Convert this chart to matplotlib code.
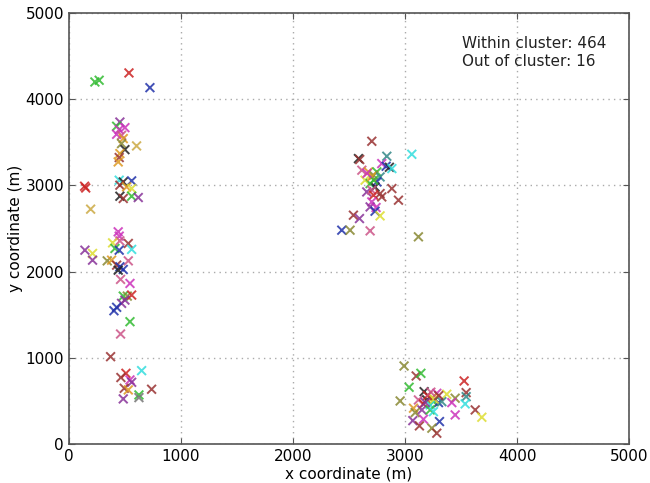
import matplotlib
matplotlib.use('Agg')
import matplotlib.pyplot as plt

# Point positions (m)
x_vals = [
    232, 270, 536, 723, 604, 455, 426, 500, 449, 426, 470, 485, 470, 500, 455, 449, 440,
    140, 150, 449, 485, 560, 455, 515, 560, 455, 485, 560, 619, 194,
    440, 449, 455, 530, 390, 411, 449, 560, 143, 211, 211, 342, 381, 530, 426, 455, 485, 440,
    461, 545, 485, 521, 560, 500, 470, 426, 402, 545, 461,
    372, 649, 509, 464, 545, 560, 494, 530, 738, 625, 625, 485,
    2703, 3060, 2584, 2595, 2837, 2792, 2831, 2860, 2882, 2614, 2673, 2748, 2718, 2777,
    2643, 2688, 2748, 2732, 2658, 2703, 2777, 2882, 2718, 2792, 2941, 2703, 2688, 2741,
    2732, 2777, 2539, 2593, 2435, 2509, 2688, 3119, 2700, 2720, 2660,
    2991, 3099, 3141, 3527, 3036, 3170, 3545, 3545, 3283, 3372, 3447, 2956, 3119, 3194,
    3239, 3253, 3298, 3328, 3164, 3224, 3417, 3536, 3075, 3150, 3090, 3224, 3253, 3447,
    3626, 3685, 3164, 3307, 3069, 3128, 3239, 3283, 3200, 3260, 3180, 3300, 3230,
]
y_vals = [
    4200, 4220, 4305, 4134, 3458, 3735, 3686, 3670, 3647, 3593, 3581, 3543, 3485, 3415, 3369, 3323, 3272,
    2990, 2970, 3060, 3040, 3052, 3002, 2982, 2964, 2874, 2848, 2874, 2859, 2724,
    2461, 2411, 2356, 2326, 2333, 2268, 2248, 2257, 2248, 2210, 2132, 2124, 2132, 2124, 2074, 2055, 2024, 2016,
    1909, 1862, 1715, 1715, 1727, 1669, 1631, 1585, 1545, 1418, 1275,
    1012, 850, 819, 770, 742, 715, 645, 626, 634, 568, 537, 522,
    3512, 3361, 3311, 3300, 3338, 3253, 3222, 3210, 3195, 3176, 3156, 3156, 3118, 3098,
    3060, 3021, 3040, 2982, 2924, 2944, 2905, 2963, 2886, 2866, 2828, 2808, 2750, 2743,
    2700, 2646, 2654, 2615, 2480, 2480, 2472, 2403, 3100, 3060, 3140,
    904, 788, 819, 730, 657, 606, 595, 548, 587, 576, 530, 498, 510, 510,
    530, 490, 479, 490, 464, 452, 479, 464, 414, 394, 363, 394, 374, 336,
    394, 309, 286, 259, 270, 209, 182, 124, 560, 520, 480, 560, 600,
]

palette = {
    'r': '#cc2222', 'g': '#33bb33', 'b': '#2233aa', 'm': '#cc33bb', 'c': '#33dddd',
    'y': '#dddd33', 'k': '#222222', 'br': '#993333', 'o': '#dd9922', 'p': '#883399',
    'ol': '#888833', 'pk': '#cc5588', 't': '#338888', 'gr': '#777777', 'tan': '#ccaa44',
}
point_colors = [
    'g', 'g', 'r', 'b', 'tan', 'p', 'g', 'm', 'm', 'm', 'pk', 'o', 'ol', 'k', 'o', 'br', 'o',
    'r', 'r', 'c', 'k', 'b', 'br', 'o', 'y', 'k', 'br', 'g', 'p', 'tan',
    'm', 'm', 'pk', 'br', 'y', 'g', 'b', 'c', 'p', 'y', 'p', 'ol', 'o', 'pk', 'br', 'b', 'b', 'k',
    'pk', 'm', 'g', 'ol', 'r', 'p', 'p', 'b', 'b', 'g', 'pk',
    'br', 'c', 'r', 'br', 'm', 'p', 'br', 'o', 'br', 'g', 'gr', 'p',
    'br', 'c', 'k', 'br', 't', 'm', 'b', 'k', 'c', 'pk', 'o', 'g', 'ol', 't',
    'y', 'g', 'b', 'k', 'p', 'pk', 'br', 'br', 'r', 'br', 'br', 'm', 'p', 'm',
    'b', 'y', 'br', 'p', 'b', 'ol', 'pk', 'ol', 'o', 'g', 'm',
    'ol', 'br', 'g', 'r', 'g', 'k', 'br', 't', 'm', 'y', 'ol', 'ol', 'pk', 'k',
    'o', 'g', 'b', 't', 'r', 'c', 'm', 'c', 'o', 'p', 'ol', 'g', 'c', 'm',
    'br', 'y', 'm', 'b', 'p', 'br', 'ol', 'br', 'r', 'y', 'p', 'br', 'pk',
]

within_count = 464
out_count = 16

fig = plt.figure(figsize=(6.5, 4.83), dpi=100)
ax = fig.add_axes([0.106, 0.081, 0.862, 0.892])

ax.scatter(x_vals, y_vals, marker='x', s=40, linewidths=1.4,
           c=[palette[k] for k in point_colors], alpha=0.85, zorder=3)

ax.set_xlim(0, 5000)
ax.set_ylim(0, 5000)
ax.set_xticks(range(0, 5001, 1000))
ax.set_yticks(range(0, 5001, 1000))
ax.grid(True, linestyle=(0, (1, 3)), color='#aaaaaa', linewidth=1)
ax.tick_params(direction='in', top=True, right=True, labelsize=11, length=4, color='#555555')
for s in ax.spines.values():
    s.set_color('#555555')
    s.set_linewidth(1.2)

ax.set_xlabel('x coordinate (m)', fontsize=11, labelpad=2)
ax.set_ylabel('y coordinate (m)', fontsize=11, labelpad=2)

ax.text(3510, 4730, 'Within cluster: %d\nOut of cluster: %d' % (within_count, out_count),
        fontsize=11, va='top', ha='left', color='#222222', linespacing=1.2)

fig.savefig('out.png', dpi=100)
